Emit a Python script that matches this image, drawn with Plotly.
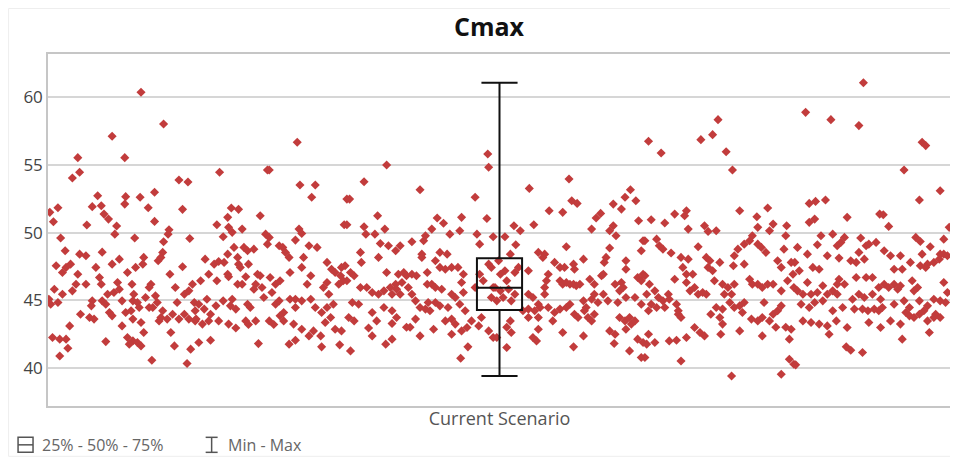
import plotly.graph_objects as go

# ---------------- data ----------------
title_text = "Cmax"
scenario_names = ["Current Scenario"]

# box statistics
stat_min = [39.41]
stat_q1 = [44.28]
stat_median = [45.93]
stat_q3 = [48.10]
stat_max = [61.08]

legend_labels = ["25% - 50% - 75%", "Min - Max"]
y_ticks = [40, 45, 50, 55, 60]

# individual samples: (horizontal jitter position 0..1000, Cmax value), read in six vertical bands
band_1 = [(103,60.37),(128,58.03),(71,57.12),(33,55.54),(85,55.54),(35,54.46),(27,54.04),(145,53.89),(155,53.74),(55,52.73),(86,52.66),(85,52.11),(102,52.61),(118,52.98),(49,51.92),(59,51.99),(2,51.50),(11,51.84),(6,50.81),(62,51.37),(67,51.0),(111,51.84),(149,51.72),(118,50.83),(43,50.56),(76,50.49),(74,49.89),(134,50.21),(133,49.89),(14,49.60),(96,49.60),(157,49.57),(128,49.33),(19,48.66),(60,48.56),(35,48.41),(42,48.29),(127,48.54),(125,48.17),(122,47.92),(106,48.17),(105,47.67),(9,47.55),(20,47.43),(25,47.67),(16,47.06),(79,48.04),(71,47.67),(149,47.48),(53,47.43),(135,46.93),(97,47.43),(88,47.06),(57,46.69),(59,46.19),(33,46.93),(31,46.19),(42,46.19),(114,46.19),(112,45.95),(77,46.32),(93,46.19),(141,45.95),(160,46.19),(7,45.82),(16,45.45),(27,45.70),(66,45.45),(73,45.58),(79,45.82),(95,45.45),(108,45.21),(119,45.33),(151,45.45),(156,45.70),(1,45.08),(3,44.71),(11,44.84),(49,44.96),(48,44.59),(60,44.96),(64,44.71),(82,44.96),(94,44.96),(99,44.84),(112,44.47),(121,44.84),(127,44.23),(143,44.84),(162,44.84),(163,44.23),(36,43.97),(46,43.73),(51,43.61),(68,44.10),(71,43.85),(86,44.10),(92,44.23),(101,44.47),(116,44.47),(125,43.73),(132,43.61),(138,43.97),(145,43.61),(151,43.97),(156,43.61),(163,43.48),(24,43.11),(82,43.11),(94,43.61),(103,43.36),(123,43.48),(136,42.62),(106,42.62),(5,42.25),(13,42.13),(20,42.13),(64,41.95),(88,42.25),(94,42.00),(99,41.88),(103,41.63),(90,41.76),(140,41.63),(22,41.46),(13,40.89),(158,41.39),(115,40.57),(154,40.33)]
band_2 = [(276,56.68),(190,54.46),(243,54.63),(245,54.63),(279,53.52),(296,53.52),(292,52.61),(331,52.48),(203,51.82),(211,51.72),(199,51.13),(235,51.25),(187,50.58),(200,50.39),(204,50.02),(215,50.26),(278,50.26),(281,49.94),(328,50.58),(194,49.70),(241,49.89),(245,49.65),(243,49.15),(274,49.45),(206,48.91),(217,48.91),(221,48.66),(228,48.78),(256,49.03),(260,48.91),(263,48.54),(267,48.17),(289,49.03),(298,48.91),(174,48.04),(184,47.67),(189,47.87),(195,47.80),(199,48.41),(210,48.17),(211,47.67),(213,47.43),(222,47.67),(283,48.17),(281,47.43),(309,47.80),(314,47.30),(318,47.06),(325,47.43),(324,46.81),(178,46.93),(169,46.44),(187,46.44),(199,46.93),(200,46.74),(210,46.19),(215,46.19),(219,46.74),(232,46.93),(235,46.81),(230,46.19),(237,45.95),(228,45.82),(246,46.69),(252,46.19),(257,46.44),(248,45.58),(268,47.06),(291,46.81),(287,46.19),(305,45.95),(309,46.32),(311,45.45),(322,46.19),(327,46.44),(176,45.08),(167,44.71),(173,44.35),(186,44.59),(194,44.96),(180,43.97),(204,45.08),(202,44.59),(208,44.35),(221,44.71),(224,44.47),(219,43.48),(239,45.21),(252,44.71),(256,44.96),(268,45.08),(274,45.08),(281,44.96),(291,45.08),(274,44.47),(261,44.10),(257,43.85),(296,44.47),(303,44.10),(309,44.47),(316,44.71),(164,43.61),(171,43.24),(178,43.48),(189,43.48),(200,43.24),(208,42.95),(222,43.21),(230,43.48),(245,43.48),(250,43.21),(261,43.48),(272,43.24),(281,42.86),(289,42.37),(294,42.74),(302,42.37),(307,43.36),(313,43.73),(318,42.86),(325,42.74),(167,41.88),(180,42.05),(233,41.80),(267,41.76),(274,42.05),(303,41.56),(323,41.71)]
band_3 = [(487,55.81),(488,54.83),(375,55.00),(350,53.76),(412,53.17),(334,52.48),(473,52.61),(365,51.25),(486,51.05),(331,50.58),(350,50.44),(352,49.89),(362,49.89),(373,50.26),(431,51.08),(438,50.69),(425,50.26),(458,51.13),(456,50.14),(418,49.77),(416,49.40),(445,49.89),(475,49.89),(368,49.20),(377,49.03),(390,49.03),(385,48.66),(403,49.33),(478,49.15),(493,49.70),(346,48.54),(347,47.80),(366,48.17),(414,48.41),(414,48.17),(434,48.54),(442,48.41),(329,47.55),(335,47.06),(339,46.81),(331,46.44),(375,47.06),(388,46.93),(394,47.06),(397,46.81),(392,46.32),(385,46.19),(403,46.93),(408,46.81),(429,47.92),(434,47.43),(440,47.30),(447,47.43),(454,47.43),(460,46.93),(420,47.06),(420,46.19),(425,46.19),(429,45.95),(436,45.82),(346,45.95),(353,45.95),(359,45.58),(366,45.45),(372,45.70),(379,45.95),(381,45.45),(386,45.82),(390,45.45),(399,45.95),(407,44.96),(403,45.45),(458,46.32),(460,45.58),(451,45.21),(447,45.45),(473,45.95),(478,46.93),(482,46.44),(488,47.67),(491,47.43),(493,45.95),(491,45.21),(337,44.84),(344,44.71),(333,43.73),(339,43.48),(359,44.10),(364,43.48),(355,42.95),(359,42.37),(372,44.47),(381,44.23),(386,43.73),(381,43.29),(397,43.01),(401,43.01),(407,43.61),(412,44.47),(418,44.35),(421,44.84),(423,44.23),(429,44.84),(434,44.59),(440,43.48),(447,43.61),(451,43.24),(427,42.86),(412,42.37),(443,44.47),(456,44.71),(462,44.23),(458,42.74),(464,42.99),(469,43.48),(477,43.11),(480,43.73),(488,42.74),(493,42.25),(447,42.49),(335,41.26),(374,41.76),(381,42.13),(465,41.56),(457,40.72)]
band_4 = [(577,53.96),(533,53.27),(580,52.36),(586,52.16),(555,51.62),(570,51.50),(626,52.11),(635,51.74),(639,52.61),(645,53.17),(651,52.36),(612,51.42),(607,51.08),(602,50.26),(626,50.51),(622,50.14),(629,49.77),(654,50.88),(538,50.58),(516,50.51),(523,50.14),(506,49.70),(518,49.10),(574,48.96),(622,48.86),(659,49.40),(657,48.66),(543,48.54),(550,48.41),(548,48.17),(561,47.80),(567,47.43),(572,47.43),(582,47.67),(583,47.30),(593,48.04),(618,48.17),(616,47.80),(640,47.92),(640,47.30),(499,47.92),(512,48.41),(521,47.43),(506,47.18),(501,46.93),(517,47.06),(508,46.44),(532,47.18),(554,46.93),(552,46.44),(550,45.95),(567,46.44),(570,46.19),(574,46.32),(578,46.19),(582,46.19),(585,46.07),(589,46.19),(600,46.56),(605,46.19),(613,46.81),(615,46.93),(628,46.19),(635,46.32),(633,45.70),(637,45.95),(653,46.69),(657,46.44),(659,46.93),(495,45.95),(501,45.70),(510,45.82),(517,45.45),(504,45.21),(513,44.96),(497,44.96),(532,45.45),(537,45.21),(550,45.45),(543,44.71),(578,44.71),(593,44.96),(596,44.47),(602,45.08),(605,45.45),(609,44.84),(615,45.45),(620,44.96),(631,44.84),(640,45.21),(650,45.21),(657,44.71),(526,44.23),(532,44.35),(539,44.23),(545,44.47),(554,44.47),(561,44.10),(567,44.35),(574,44.47),(532,43.73),(543,43.73),(559,43.48),(583,43.97),(587,43.73),(594,44.23),(598,43.73),(605,43.97),(602,43.48),(633,43.73),(639,43.48),(644,43.73),(646,43.24),(650,43.48),(640,42.86),(512,43.48),(508,43.01),(513,42.62),(543,42.86),(537,42.25),(541,42.00),(570,42.62),(593,42.37),(622,42.74),(628,42.49),(627,41.81),(653,42.13),(659,41.88),(657,40.77),(508,41.51),(582,41.56),(644,41.26),(497,42.25)]
band_5 = [(742,58.35),(665,56.75),(723,56.87),(736,57.24),(679,55.89),(751,55.98),(758,54.63),(766,51.62),(797,51.82),(694,51.37),(707,51.62),(705,51.25),(668,50.95),(683,50.71),(709,50.26),(727,50.51),(731,50.09),(740,50.14),(785,51.17),(786,50.39),(780,49.77),(777,49.40),(771,49.15),(803,50.63),(799,50.14),(818,50.51),(661,49.40),(674,49.52),(677,49.03),(681,48.78),(720,48.96),(764,48.78),(760,48.29),(786,49.15),(790,48.91),(795,48.54),(815,48.78),(817,49.77),(690,48.49),(701,48.17),(729,48.17),(733,47.92),(731,47.43),(736,47.18),(744,47.80),(709,48.04),(703,47.43),(707,46.93),(771,47.67),(759,47.55),(808,47.92),(812,47.43),(823,47.80),(825,46.93),(661,46.81),(666,46.19),(672,45.70),(663,45.45),(694,46.56),(707,46.32),(714,46.93),(716,45.95),(711,45.70),(720,45.45),(725,45.58),(729,45.45),(738,46.44),(747,46.19),(753,45.95),(760,46.19),(749,45.45),(757,45.45),(777,46.56),(780,46.19),(786,46.19),(791,45.95),(797,46.19),(803,46.19),(812,45.70),(819,46.44),(826,45.95),(676,45.21),(681,44.96),(687,45.45),(688,45.08),(683,44.47),(668,44.71),(665,44.23),(674,44.47),(696,44.71),(698,43.97),(701,43.73),(698,44.23),(734,43.97),(740,44.47),(744,43.73),(747,44.35),(755,44.84),(760,44.47),(766,44.59),(769,44.10),(771,44.84),(779,43.61),(786,43.48),(791,43.73),(793,44.84),(799,43.48),(803,43.97),(808,44.23),(812,44.59),(747,43.24),(745,42.49),(766,42.74),(806,43.01),(817,43.01),(823,42.86),(821,42.13),(707,42.25),(716,42.99),(722,42.62),(727,42.37),(688,42.00),(696,42.05),(665,42.49),(663,41.76),(672,41.88),(661,40.77),(791,42.37),(701,40.52),(821,40.64),(826,40.28),(757,39.41),(812,39.54)]
band_6 = [(903,61.08),(839,58.89),(867,58.35),(898,57.91),(968,56.68),(972,56.43),(948,54.63),(988,53.10),(965,52.41),(843,52.16),(850,52.31),(861,52.41),(843,50.76),(849,51.00),(885,51.13),(921,51.37),(925,51.32),(931,50.46),(998,50.39),(856,49.77),(869,49.89),(882,49.65),(900,49.60),(961,49.65),(966,49.35),(992,49.52),(830,48.91),(841,48.41),(852,49.10),(863,48.29),(874,49.03),(878,49.28),(876,48.12),(906,49.03),(909,49.15),(917,49.28),(926,48.66),(933,48.29),(944,48.29),(955,47.80),(968,48.41),(977,48.96),(889,47.92),(895,47.80),(904,48.04),(898,48.54),(974,47.67),(981,47.80),(987,48.04),(992,48.41),(996,48.29),(988,48.41),(972,47.43),(966,47.55),(827,47.80),(832,47.18),(847,47.43),(854,47.30),(937,47.30),(946,47.30),(876,46.56),(882,46.19),(895,46.69),(906,46.69),(913,46.69),(920,45.95),(926,46.19),(931,45.95),(937,46.19),(941,45.82),(944,46.07),(957,46.44),(963,45.95),(959,45.70),(992,46.32),(996,45.58),(841,46.32),(858,46.07),(874,46.19),(830,45.70),(836,45.45),(845,45.45),(852,45.58),(863,45.45),(869,45.70),(874,45.45),(891,45.08),(898,45.45),(904,45.21),(913,45.45),(922,45.08),(948,44.96),(954,44.47),(965,44.96),(974,44.59),(981,45.08),(988,44.96),(994,44.84),(834,44.71),(843,44.47),(849,44.84),(858,44.96),(869,44.23),(880,44.47),(893,44.35),(902,44.35),(908,44.23),(915,44.35),(920,44.23),(924,44.47),(937,44.71),(950,44.10),(954,43.85),(959,43.73),(965,43.97),(970,44.23),(983,43.97),(988,43.73),(836,43.48),(845,43.36),(854,43.24),(863,43.11),(873,43.48),(885,42.99),(909,43.36),(922,42.99),(933,43.48),(944,43.24),(974,43.48),(981,43.73),(976,42.62),(865,42.49),(946,42.13),(884,41.56),(889,41.31),(902,41.14),(828,40.23)]

samples = band_1 + band_2 + band_3 + band_4 + band_5 + band_6
sample_pos = [p for p, _ in samples]
sample_val = [v for _, v in samples]

# ---------------- layout constants ----------------
# the page body has an 8px margin, so the figure starts at page (8, 8)
OFF = 8
W, H = 958 - OFF, 457 - OFF
PLOT_L, PLOT_R, PLOT_T, PLOT_B = 48, 953, 54, 405.7   # page coordinates of the plot area
ML, MT = PLOT_L - OFF, PLOT_T - OFF
MR = W - (PLOT_R - OFF)
MB = H - (PLOT_B - OFF)
PW, PH = PLOT_R - PLOT_L, PLOT_B - PLOT_T

def px(X):
    return (X - PLOT_L) / PW

def py(Y):
    return (PLOT_B - Y) / PH

FONT = "Open Sans, Noto Sans, DejaVu Sans, sans-serif"
POINT_COLOR = "#c23c3c"
GRID = "#d6d6d6"
FRAME = "#c6c6c6"

fig = go.Figure()

fig.add_trace(go.Scatter(
    x=sample_pos, y=sample_val, mode="markers",
    marker=dict(symbol="diamond", size=7, color=POINT_COLOR, line=dict(width=0)),
    xaxis="x", yaxis="y", showlegend=False, hoverinfo="y",
))

fig.add_trace(go.Box(
    x=scenario_names, q1=stat_q1, median=stat_median, q3=stat_q3,
    lowerfence=stat_min, upperfence=stat_max,
    xaxis="x2", yaxis="y", boxpoints=False,
    fillcolor="rgba(0,0,0,0)", line=dict(color="#111111", width=2),
    width=0.05, whiskerwidth=0.8, showlegend=False,
))

fig.update_layout(
    width=W, height=H, autosize=False,
    margin=dict(l=ML, r=MR, t=MT, b=MB, pad=0),
    paper_bgcolor="white", plot_bgcolor="white",
    showlegend=False,
    title=dict(text="<b>" + title_text + "</b>", x=px(490), xref="paper", xanchor="center",
               y=1 - (27 - OFF) / H, yanchor="middle",
               font=dict(family=FONT, size=25, color="#111111")),
    xaxis=dict(range=[0, 1000], showticklabels=False, showgrid=False, zeroline=False,
               showline=True, mirror=True, linecolor=FRAME, linewidth=1.5, ticks=""),
    xaxis2=dict(overlaying="x", anchor="y", side="bottom", type="category",
                range=[-0.5, 0.5], showgrid=False, zeroline=False, showline=False,
                ticks="", tickfont=dict(family=FONT, size=18, color="#555555")),
    yaxis=dict(range=[37.19, 63.2], tickvals=y_ticks, showgrid=True, gridcolor=GRID,
               gridwidth=1.5, zeroline=False, showline=True, mirror=True,
               linecolor=FRAME, linewidth=1.5, ticks="",
               tickfont=dict(family=FONT, size=17, color="#444444")),
)

# faint outer frame of the chart panel
fig.add_shape(type="rect", xref="paper", yref="paper",
              x0=px(8.5), x1=px(957), y0=py(456), y1=py(8.5),
              line=dict(color="#eeeeee", width=1), fillcolor="rgba(0,0,0,0)", layer="below")

# legend: box icon
icon_col = "#555555"
fig.add_shape(type="rect", xref="paper", yref="paper",
              x0=px(18), x1=px(33), y0=py(452), y1=py(437),
              line=dict(color=icon_col, width=1.5))
fig.add_shape(type="line", xref="paper", yref="paper",
              x0=px(18), x1=px(33), y0=py(444.5), y1=py(444.5),
              line=dict(color=icon_col, width=1.5))
# legend: whisker icon
fig.add_shape(type="line", xref="paper", yref="paper",
              x0=px(212), x1=px(212), y0=py(452), y1=py(437),
              line=dict(color=icon_col, width=1.5))
fig.add_shape(type="line", xref="paper", yref="paper",
              x0=px(206), x1=px(218), y0=py(437), y1=py(437),
              line=dict(color=icon_col, width=1.5))
fig.add_shape(type="line", xref="paper", yref="paper",
              x0=px(206), x1=px(218), y0=py(452), y1=py(452),
              line=dict(color=icon_col, width=1.5))

for lbl, xpos in zip(legend_labels, [40, 226]):
    fig.add_annotation(text=lbl, xref="paper", yref="paper", x=px(xpos), y=py(444.5),
                       xanchor="left", yanchor="middle", showarrow=False,
                       font=dict(family=FONT, size=16, color="#666666"))

fig.write_html("out.html")
